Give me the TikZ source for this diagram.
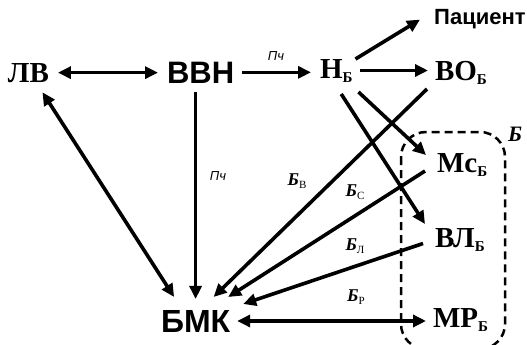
\documentclass[tikz,border=0pt]{standalone}
\usepackage{fontspec}
\setmainfont{Liberation Serif}
\newfontfamily\sansf{Liberation Sans}
\usetikzlibrary{arrows.meta}
\newcommand\sbB{\raisebox{-4pt}{\fontsize{15}{15}\selectfont Б}}
\newcommand\blb[1]{\textbf{\textit{Б}}\raisebox{-3.5pt}{\fontsize{11}{11}\selectfont #1}}
\begin{document}
\begin{tikzpicture}[x=1pt,y=-1pt,
  ser/.style={font=\fontsize{29}{29}\selectfont\bfseries, inner sep=0pt, outer sep=0pt, anchor=base west},
  san/.style={font=\fontsize{31}{31}\selectfont\sansf\bfseries, inner sep=0pt, outer sep=0pt, anchor=base west},
  arr/.style={line width=3.6pt, -{Triangle[length=13pt,width=12pt]}},
  darr/.style={line width=3.6pt, {Triangle[length=13pt,width=12pt]}-{Triangle[length=13pt,width=12pt]}},
  pch/.style={font=\fontsize{13}{13}\selectfont\sansf\itshape, inner sep=0pt},
  blab/.style={inner sep=0pt, font=\fontsize{18}{18}\selectfont},
  grp/.style={line width=2.5pt, dash pattern=on 8pt off 5pt, rounded corners=25pt}
]
\useasboundingbox (0,0) rectangle (527,345);
\begin{scope}
\clip (0,0) rectangle (527,345);
\draw[grp] (401,132) rectangle (505,349);
\end{scope}
\node[font=\fontsize{22}{22}\selectfont\bfseries\itshape, inner sep=0pt] (glab) at (515,134) {Б};

\node[ser] (lv) at (8,82) {ЛВ};
\node[san] (vvn) at (167,83) {ВВН};
\node[ser] (nb) at (320,78) {Н\sbB};
\node[font=\fontsize{22}{22}\selectfont\sansf\bfseries, inner sep=0pt, anchor=base west] (pac) at (434,25) {Пациент};
\node[ser] (vo) at (435,80) {ВО\sbB};
\node[ser] (mc) at (437,172) {Мс\sbB};
\node[ser] (vl) at (435,247) {ВЛ\sbB};
\node[ser] (mr) at (433,327) {МР\sbB};
\node[san, font=\fontsize{32}{32}\selectfont\sansf\bfseries] (bmk) at (161,332) {БМК};

\draw[darr, shorten <=9pt, shorten >=9pt] (lv.east) -- (lv.east -| vvn.west);
\draw[arr, shorten <=8pt, shorten >=9pt] (vvn.east) -- (vvn.east -| nb.west);
\node[pch] (pch1) at (276,56) {Пч};
\draw[arr] ([shift={(3,0)}]nb.north east) -- ([shift={(-14,0)}]pac.west);
\draw[arr, shorten <=8pt, shorten >=7pt] (nb.east) -- (nb.east -| vo.west);
\draw[arr] ([shift={(6,10)}]nb.south east) -- ([shift={(-11,2)}]mc.north west);
\draw[arr] ([shift={(5,12)}]nb.south) -- ([shift={(-10,-4)}]vl.north west);

\draw[darr] ([shift={(14,10)}]lv.south) -- ([shift={(-21.5,-13)}]bmk.north);
\draw[arr, shorten <=9pt, shorten >=11pt] (bmk.north |- vvn.south) -- (bmk.north);
\node[pch] (pch2) at (218,176) {Пч};

\draw[arr] ([shift={(-8,5)}]vo.south west) -- ([shift={(18,-13)}]bmk.north);
\draw[arr] ([shift={(-12,-5)}]mc.south west) -- ([shift={(-2,-13)}]bmk.north east);
\draw[arr] ([shift={(-12,4)}]vl.west) -- ([shift={(13,-6)}]bmk.north east);
\draw[darr, shorten <=7pt, shorten >=7pt] (bmk.east) -- (bmk.east -| mr.west);

\node[blab] (lb1) at (297,181) {\blb{В}};
\node[blab] (lb2) at (355,192) {\blb{С}};
\node[blab] (lb3) at (355,246) {\blb{Л}};
\node[blab] (lb4) at (356,297) {\blb{Р}};
\end{tikzpicture}
\end{document}
